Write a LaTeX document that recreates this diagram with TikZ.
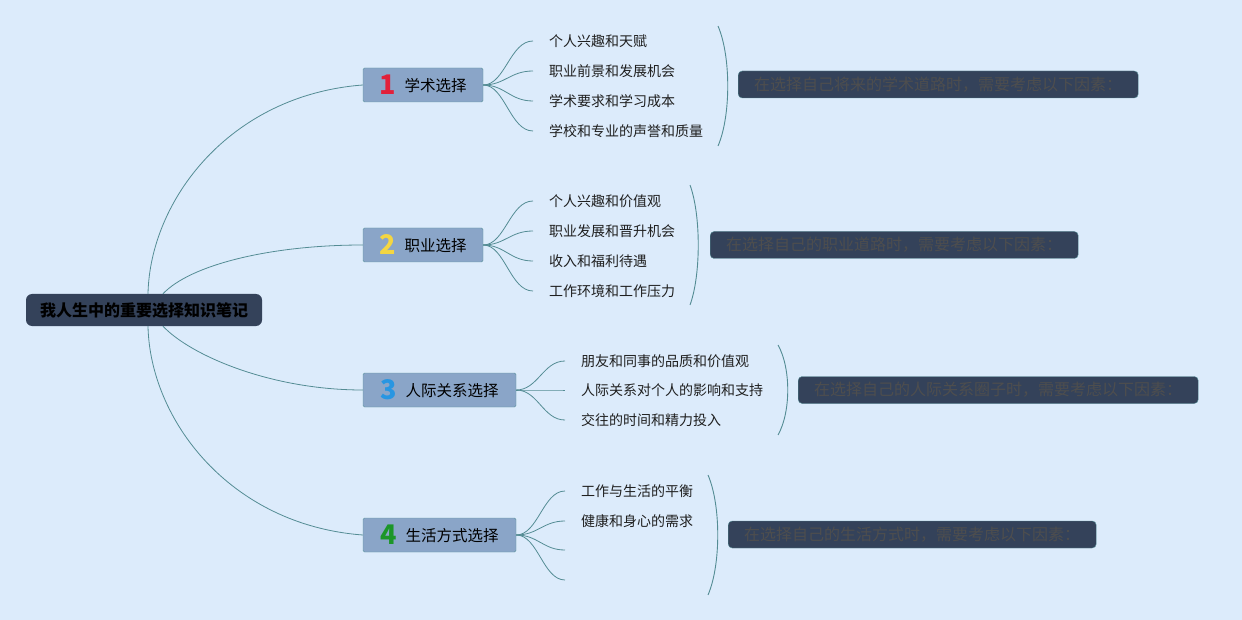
\documentclass[tikz,border=0pt]{standalone}
\usepackage{fontspec}
\setmainfont{Noto Sans CJK SC}
\usepackage{tikz}
\usepackage{xcolor}
\usetikzlibrary{positioning}

\definecolor{bgblue}{RGB}{220,235,251}
\definecolor{rootfill}{RGB}{52,66,90}
\definecolor{branchfill}{RGB}{138,165,200}
\definecolor{branchline}{RGB}{94,150,158}
\definecolor{linecol}{RGB}{84,140,148}
\definecolor{notetext}{RGB}{78,78,78}
\definecolor{numred}{RGB}{226,32,58}
\definecolor{numyellow}{RGB}{244,214,66}
\definecolor{numblue}{RGB}{40,150,226}
\definecolor{numgreen}{RGB}{28,150,40}

\newcommand\numdigit[2]{\raisebox{-3pt}{\fontsize{27}{27}\selectfont\bfseries\color{#1}#2}}

\tikzset{
    rootbox/.style={fill=rootfill, rounded corners=6pt, minimum width=236pt, minimum height=32pt,
        font=\fontsize{16}{18}\selectfont\bfseries, text=black},
    branchbox/.style={draw=branchline, fill=branchfill, rounded corners=1.5pt, minimum height=34pt,
        inner ysep=0pt, font=\fontsize{15.5}{17}\selectfont, text=black},
    leaf/.style={anchor=west, inner xsep=16pt, font=\fontsize{14}{16}\selectfont, text=black!88},
    notebox/.style={anchor=west, draw=linecol, fill=rootfill, rounded corners=4pt, minimum height=27pt,
        inner xsep=16pt, inner ysep=0pt, font=\fontsize{16}{18}\selectfont, text=notetext},
    link/.style={draw=linecol, line width=0.8pt},
    brace/.style={draw=linecol, line width=0.9pt}
}

\begin{document}
\begin{tikzpicture}[x=1pt, y=-1pt]
    \fill[bgblue] (0,0) rectangle (1242,620);
    \useasboundingbox (0,0) rectangle (1242,620);

    % root and the four branches
    \node[rootbox] (root) at (144,310) {我人生中的重要选择知识笔记};
    \node[branchbox, minimum width=120pt] (acad) at (423,85) {\numdigit{numred}{1}\hspace{9pt}学术选择};
    \node[branchbox, minimum width=120pt] (career) at (423,245) {\numdigit{numyellow}{2}\hspace{9pt}职业选择};
    \node[branchbox, minimum width=153pt] (social) at (439.5,390) {\numdigit{numblue}{3}\hspace{9pt}人际关系选择};
    \node[branchbox, minimum width=153pt] (life) at (439.5,535) {\numdigit{numgreen}{4}\hspace{9pt}生活方式选择};

    \draw[link] ([xshift=4pt]root.north) .. controls (150,200) and (230,95) .. (acad.west);
    \draw[link] ([xshift=19pt]root.north) .. controls (190,265) and (270,245) .. (career.west);
    \draw[link] ([xshift=19pt]root.south) .. controls (190,355) and (270,390) .. (social.west);
    \draw[link] ([xshift=4pt]root.south) .. controls (150,420) and (230,525) .. (life.west);

    % leaves
    \node[leaf] (acad1) at (533,41) {个人兴趣和天赋};
    \node[leaf] (acad2) at (533,71) {职业前景和发展机会};
    \node[leaf] (acad3) at (533,101) {学术要求和学习成本};
    \node[leaf] (acad4) at (533,131) {学校和专业的声誉和质量};
    \foreach \i/\y in {1/41, 2/71, 3/101, 4/131}
        \draw[link] (acad.east) .. controls (505,85) and (510,\y) .. (acad\i.west);

    \node[leaf] (career1) at (533,201) {个人兴趣和价值观};
    \node[leaf] (career2) at (533,231) {职业发展和晋升机会};
    \node[leaf] (career3) at (533,261) {收入和福利待遇};
    \node[leaf] (career4) at (533,291) {工作环境和工作压力};
    \foreach \i/\y in {1/201, 2/231, 3/261, 4/291}
        \draw[link] (career.east) .. controls (505,245) and (510,\y) .. (career\i.west);

    \node[leaf] (social1) at (565,361) {朋友和同事的品质和价值观};
    \node[leaf] (social2) at (565,390) {人际关系对个人的影响和支持};
    \node[leaf] (social3) at (565,420) {交往的时间和精力投入};
    \foreach \i/\y in {1/361, 2/390, 3/420}
        \draw[link] (social.east) .. controls (538,390) and (543,\y) .. (social\i.west);

    \node[leaf] (life1) at (565,491) {工作与生活的平衡};
    \node[leaf] (life2) at (565,521) {健康和身心的需求};
    \coordinate (life3) at (565,550);
    \coordinate (life4) at (565,580);
    \draw[link] (life.east) .. controls (538,535) and (543,491) .. (life1.west);
    \draw[link] (life.east) .. controls (538,535) and (543,521) .. (life2.west);
    \draw[link] (life.east) .. controls (538,535) and (543,550) .. (life3);
    \draw[link] (life.east) .. controls (538,535) and (543,580) .. (life4);

    % summary brackets and notes
    \draw[brace] (718,26) .. controls (731,56) and (731,116) .. (718,146);
    \draw[brace] (690,185) .. controls (701,215) and (701,275) .. (690,305);
    \draw[brace] (778,345) .. controls (791,368) and (791,412) .. (778,435);
    \draw[brace] (708,475) .. controls (721,505) and (721,565) .. (708,595);

    \node[notebox] (acadnote) at (738,84.5) {在选择自己将来的学术道路时，需要考虑以下因素：};
    \node[notebox] (careernote) at (710,245) {在选择自己的职业道路时，需要考虑以下因素：};
    \node[notebox] (socialnote) at (798,390) {在选择自己的人际关系圈子时，需要考虑以下因素：};
    \node[notebox] (lifenote) at (728,534.5) {在选择自己的生活方式时，需要考虑以下因素：};
\end{tikzpicture}
\end{document}
